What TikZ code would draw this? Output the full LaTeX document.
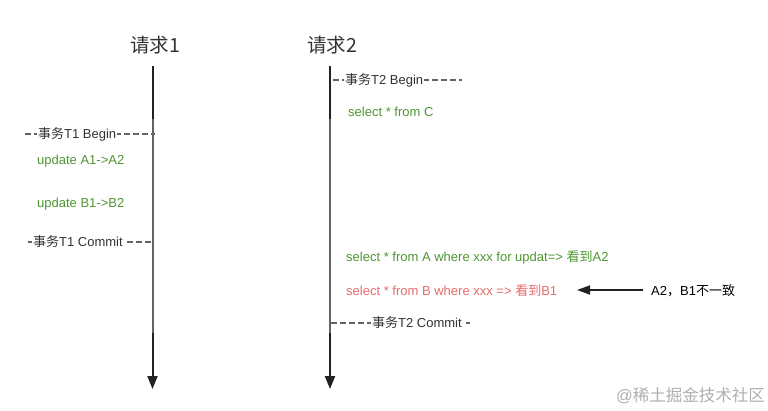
\documentclass[tikz,border=0pt]{standalone}
\usepackage{fontspec}
\setmainfont{Liberation Sans}
\newfontfamily\cjk{Noto Sans CJK SC}
\usetikzlibrary{arrows.meta}
\definecolor{sqlgreen}{RGB}{80,150,50}
\definecolor{sqlred}{RGB}{232,108,108}
\definecolor{darkline}{RGB}{34,34,34}
\definecolor{grayline}{RGB}{100,100,100}
\definecolor{txtgray}{RGB}{50,50,50}
\definecolor{wm}{RGB}{175,175,175}
\begin{document}
\begin{tikzpicture}[x=1pt,y=-1pt,
  title/.style={font=\fontsize{19.5}{22}\selectfont, text=txtgray, inner sep=0pt},
  lbl/.style={font=\fontsize{13}{15}\selectfont, text=txtgray, fill=white, inner sep=1pt, anchor=west},
  sqlg/.style={font=\fontsize{13}{15}\selectfont, text=sqlgreen, anchor=west, inner sep=0pt},
  sqlr/.style={font=\fontsize{13}{15}\selectfont, text=sqlred, anchor=west, inner sep=0pt},
  note/.style={font=\fontsize{13}{15}\selectfont, text=black, anchor=west, inner sep=0pt},
  tline/.style={line width=2pt, draw=darkline, -{Triangle[length=13pt,width=10pt]}},
  mline/.style={line width=2pt, draw=grayline},
  dashln/.style={line width=1.5pt, draw=grayline, dash pattern=on 6pt off 3pt},
  ptr/.style={line width=1.5pt, draw=darkline, -{Triangle[length=13pt,width=9pt]}}
]
\useasboundingbox[fill=white] (0,0) rectangle (768,411);

% titles
\node[title] (r1) at (155,45) {\cjk 请求1};
\node[title] (r2) at (332,45) {\cjk 请求2};

% timelines
\coordinate (a1) at (152.5,66);
\coordinate (b1) at (152.5,389);
\coordinate (m1a) at (152.5,119);
\coordinate (m1b) at (152.5,333);
\coordinate (a2) at (330,66);
\coordinate (b2) at (330,389);
\coordinate (m2a) at (330,119);
\coordinate (m2b) at (330,333);
\draw[tline] (a1) -- (b1);
\draw[tline] (a2) -- (b2);
\draw[mline] (m1a) -- (m1b);
\draw[mline] (m2a) -- (m2b);

% transaction markers
\coordinate (t1bL) at (25,134);
\coordinate (t1bR) at (155,134);
\draw[dashln] (t1bL) -- (t1bR);
\node[lbl] (t1b) at (37,134) {{\cjk 事务}T1 Begin};

\coordinate (t1cL) at (28,242);
\coordinate (t1cR) at (152,242);
\draw[dashln] (t1cL) -- (t1cR);
\node[lbl] (t1c) at (32,242) {{\cjk 事务}T1 Commit};

\coordinate (t2bL) at (333,80);
\coordinate (t2bR) at (462,80);
\draw[dashln] (t2bL) -- (t2bR);
\node[lbl] (t2b) at (344,80) {{\cjk 事务}T2 Begin};

\coordinate (t2cL) at (331,323);
\coordinate (t2cR) at (470,323);
\draw[dashln] (t2cL) -- (t2cR);
\node[lbl] (t2c) at (371,323) {{\cjk 事务}T2 Commit};

% statements
\node[sqlg] (u1) at (37,161) {update A1->A2};
\node[sqlg] (u2) at (37,204) {update B1->B2};
\node[sqlg] (s1) at (348,112) {select * from C};
\node[sqlg] (s2) at (346,257) {select * from A where xxx for updat=> {\cjk 看到}A2};
\node[sqlr] (s3) at (346,291) {select * from B where xxx => {\cjk 看到}B1};

% note
\node[note] (n1) at (651,291) {A2{\cjk ，}B1{\cjk 不一致}};
\coordinate (p1) at (643,290);
\coordinate (p2) at (577,290);
\draw[ptr] (p1) -- (p2);

% watermark
\node[font=\fontsize{16.5}{18}\selectfont, text=wm, anchor=east, inner sep=0pt] (wmk) at (765,396) {@{\cjk 稀土掘金技术社区}};
\end{tikzpicture}
\end{document}
